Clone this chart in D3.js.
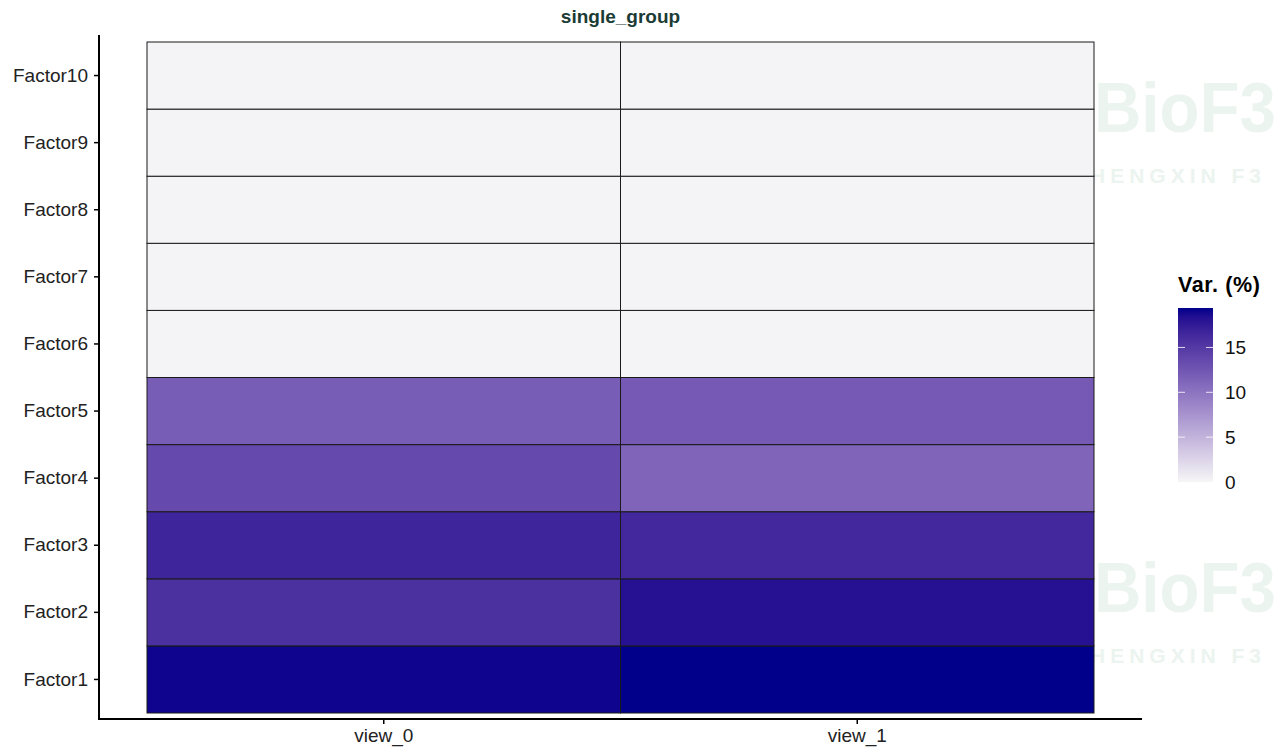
<!DOCTYPE html>
<html>
<head>
<meta charset="utf-8">
<script src="https://cdn.jsdelivr.net/npm/d3@7"></script>
<style>
  body { margin: 0; background: #fff; }
  svg { font-family: "Liberation Sans", Arial, sans-serif; }
</style>
</head>
<body>
<svg id="chart" width="1278" height="755"></svg>
<script>
const views = ['view_0', 'view_1'];
const factors = ['Factor1', 'Factor2', 'Factor3', 'Factor4', 'Factor5',
  'Factor6', 'Factor7', 'Factor8', 'Factor9', 'Factor10'];
const view0 = [19.1, 15.7, 16.6, 13.6, 11.9, 0.2, 0.2, 0.2, 0.2, 0.2];
const view1 = [19.4, 18.2, 16.4, 11.3, 12.2, 0.2, 0.2, 0.2, 0.2, 0.2];
const legendTicks = [0, 5, 10, 15];

const cells = [];
factors.forEach((f, i) => {
  cells.push({ factor: f, view: views[0], value: view0[i] });
  cells.push({ factor: f, view: views[1], value: view1[i] });
});
const maxVal = d3.max(cells, d => d.value);

const svg = d3.select('#chart');

// panel bounds
const panel = { left: 99, right: 1142, top: 35, bottom: 719 };

const x = d3.scaleBand().domain(views).range([147, 1094]);
const y = d3.scaleBand().domain(factors).range([713, 42]);

const color = d3.scaleLinear()
  .domain([0, maxVal])
  .range(['#f6f6f6', '#00008b'])
  .interpolate(d3.interpolateLab);

// watermark (sits behind the tiles)
const wm = svg.append('g').attr('fill', '#ecf4f0').attr('font-weight', 'bold');
[132, 612].forEach((by) => {
  wm.append('text')
    .attr('x', 1094).attr('y', by)
    .attr('font-size', 70)
    .attr('textLength', 182)
    .attr('lengthAdjust', 'spacingAndGlyphs')
    .text('BioF3');
  wm.append('text')
    .attr('x', 1266).attr('y', by + 51)
    .attr('text-anchor', 'end')
    .attr('font-size', 21)
    .attr('letter-spacing', 5)
    .text('SHENGXIN F3');
});

svg.append('g')
  .selectAll('rect')
  .data(cells)
  .enter()
  .append('rect')
  .attr('x', d => x(d.view))
  .attr('y', d => y(d.factor))
  .attr('width', x.bandwidth())
  .attr('height', y.bandwidth())
  .attr('fill', d => color(d.value))
  .attr('stroke', '#1a1a1a')
  .attr('stroke-width', 1);

// axes
const yAxis = svg.append('g')
  .attr('transform', `translate(${panel.left},0)`)
  .call(d3.axisLeft(y).tickSize(5).tickPadding(6).tickSizeOuter(0));
yAxis.select('.domain').remove();

const xAxis = svg.append('g')
  .attr('transform', `translate(0,${panel.bottom})`)
  .call(d3.axisBottom(x).tickSize(5).tickPadding(5).tickSizeOuter(0));
xAxis.select('.domain').remove();

[yAxis, xAxis].forEach((a) => {
  a.selectAll('.tick line').attr('stroke', '#000').attr('stroke-width', 1.5);
  a.selectAll('.tick text')
    .attr('fill', '#222')
    .attr('font-size', 19)
    .attr('font-family', '"Liberation Sans", Arial, sans-serif');
});

svg.append('line')
  .attr('x1', panel.left).attr('x2', panel.left)
  .attr('y1', panel.top).attr('y2', panel.bottom + 1)
  .attr('stroke', '#000').attr('stroke-width', 2);
svg.append('line')
  .attr('x1', panel.left - 1).attr('x2', panel.right)
  .attr('y1', panel.bottom).attr('y2', panel.bottom)
  .attr('stroke', '#000').attr('stroke-width', 2);

// title
svg.append('text')
  .attr('x', (x.range()[0] + x.range()[1]) / 2)
  .attr('y', 23)
  .attr('text-anchor', 'middle')
  .attr('font-size', 19)
  .attr('font-weight', 'bold')
  .attr('fill', '#1b3b35')
  .text('single_group');

// legend
const lg = { x: 1178, w: 35, top: 308, bottom: 482 };
const lScale = d3.scaleLinear().domain([0, maxVal]).range([lg.bottom, lg.top]);

const grad = svg.append('defs').append('linearGradient')
  .attr('id', 'legend-grad')
  .attr('x1', 0).attr('y1', 1).attr('x2', 0).attr('y2', 0);
d3.range(0, 1.0001, 0.05).forEach((t) => {
  grad.append('stop')
    .attr('offset', t)
    .attr('stop-color', color(t * maxVal));
});

const legend = svg.append('g').attr('id', 'legend');
legend.append('text')
  .attr('x', 1178).attr('y', 292)
  .attr('font-size', 21.5)
  .attr('font-weight', 'bold')
  .attr('letter-spacing', 0.6)
  .attr('fill', '#000')
  .text('Var. (%)');

legend.append('rect')
  .attr('x', lg.x).attr('y', lg.top)
  .attr('width', lg.w).attr('height', lg.bottom - lg.top)
  .attr('fill', 'url(#legend-grad)');

const lt = legend.selectAll('g.ltick')
  .data(legendTicks)
  .enter()
  .append('g')
  .attr('class', 'ltick');
lt.filter(d => d > 0).append('line')
  .attr('x1', lg.x).attr('x2', lg.x + 7)
  .attr('y1', d => lScale(d)).attr('y2', d => lScale(d))
  .attr('stroke', '#fff').attr('stroke-opacity', 0.8);
lt.filter(d => d > 0).append('line')
  .attr('x1', lg.x + lg.w - 7).attr('x2', lg.x + lg.w)
  .attr('y1', d => lScale(d)).attr('y2', d => lScale(d))
  .attr('stroke', '#fff').attr('stroke-opacity', 0.8);
lt.append('text')
  .attr('x', lg.x + lg.w + 12)
  .attr('y', d => lScale(d) + 7)
  .attr('font-size', 19)
  .attr('fill', '#111')
  .text(d => d);
</script>
</body>
</html>
